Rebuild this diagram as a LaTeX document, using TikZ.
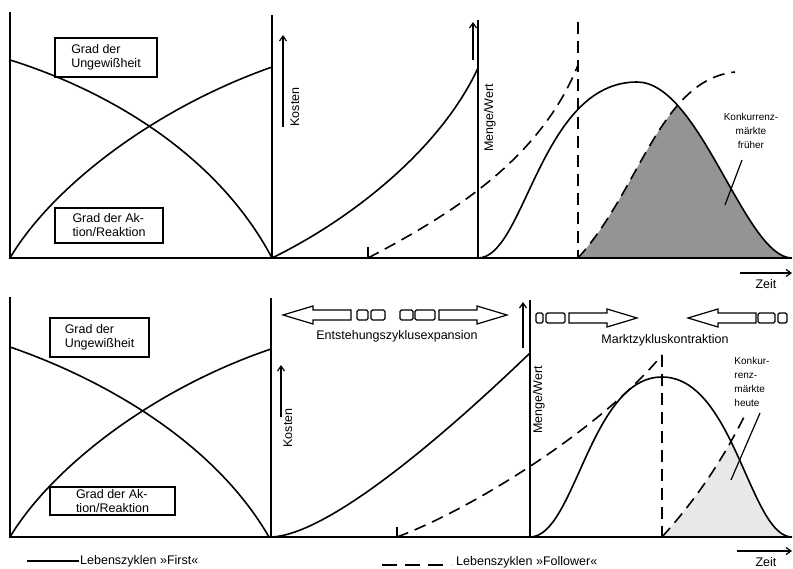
\documentclass[tikz,border=0pt]{standalone}
\usepackage{fontspec}
\setmainfont{Liberation Sans}
\usetikzlibrary{arrows.meta}
\tikzset{
  curve/.style  = {line width=1.6pt},
  dcurve/.style = {curve, dash pattern=on 12pt off 7pt},
  axis/.style   = {line width=1.7pt},
  labelbox/.style = {draw, line width=1.3pt, align=left, inner sep=0pt,
                     font=\fontsize{12.5}{14}\selectfont},
  lbl/.style    = {font=\fontsize{12.5}{14}\selectfont, inner sep=1pt},
  konk/.style   = {font=\fontsize{10}{14}\selectfont, inner sep=1pt},
  uparr/.style  = {line width=1.2pt, -{Straight Barb[length=5pt,width=7pt]}},
  hollow/.style = {line width=1.2pt, line join=miter},
  seg/.style    = {hollow, rounded corners=1.5pt},
  bigarrow/.pic = {\draw[hollow] (0,0) -- (-30,-9) -- (-30,-5) -- (-68,-5)
                    -- (-68,5) -- (-30,5) -- (-30,9) -- cycle;},
}

\begin{document}
\begin{tikzpicture}[x=1pt, y=-1pt]
  \useasboundingbox (0,0) rectangle (793,569);

  % ---------- upper panel: Lebenszyklen frueher ----------
  % shaded competitor market
  \begin{scope}
    \clip (578,258) .. controls (640,190) and (660,80) .. (735,72)
          -- (800,72) -- (800,258) -- cycle;
    \fill[black!42] (478,258) .. controls (525,258) and (540,82) .. (637,82)
          .. controls (700,82) and (745,258) .. (792,258) -- cycle;
  \end{scope}

  % axes
  \draw[axis] (10,12) -- (10,258) -- (792,258);
  \draw[axis] (272,15) -- (272,258);
  \draw[axis] (478,20) -- (478,258);
  \draw[dcurve] (578,22) -- (578,258);

  % Ungewissheit / Aktion
  \draw[curve] (10,60) .. controls (100,88) and (215,150) .. (272,258);
  \draw[curve] (10,258) .. controls (50,190) and (150,110) .. (272,67);
  \node[labelbox, minimum width=102pt, minimum height=39pt] (ungA) at (106,57.5)
    {Grad der\\Ungewißheit};
  \node[labelbox, minimum width=108pt, minimum height=35pt] (aktA) at (109,225.5)
    {Grad der Ak-\\tion/Reaktion};

  % Kosten
  \draw[curve] (272,258) .. controls (350,220) and (440,150) .. (478,68);
  \draw[dcurve] (368,258) .. controls (450,215) and (540,160) .. (578,65);
  \draw[curve] (368,247) -- (368,258);
  \coordinate (kosA0) at (283,127);
  \coordinate (kosA1) at (283,35);
  \draw[uparr] (kosA0) -- (kosA1);
  \node[lbl, rotate=90] (kosA) at (295,107) {Kosten};

  % Menge/Wert
  \coordinate (menA0) at (473,60);
  \coordinate (menA1) at (473,22);
  \draw[uparr] (menA0) -- (menA1);
  \node[lbl, rotate=90] (menA) at (490,118) {Menge/Wert};
  \draw[curve] (478,258) .. controls (525,258) and (540,82) .. (637,82)
        .. controls (700,82) and (745,258) .. (792,258);
  \draw[dcurve] (578,258) .. controls (640,190) and (660,80) .. (735,72);

  \node[konk, align=center] (konkA) at (751,131) {Konkurrenz-\\märkte\\früher};
  \coordinate (konkAp) at (725,205);
  \draw[line width=1.2pt] (742,160) -- (konkAp);

  % Zeit
  \coordinate (zeitA0) at (740,273);
  \coordinate (zeitA1) at (792,273);
  \draw[uparr] (zeitA0) -- (zeitA1);
  \node[lbl] (zeitA) at (766,284) {Zeit};

  % ---------- lower panel: Lebenszyklen heute ----------
  \begin{scope}
    \clip (662,537) .. controls (700,495) and (725,455) .. (745,415)
          -- (800,415) -- (800,540) -- cycle;
    \fill[black!9] (530,537) .. controls (575,537) and (590,377) .. (662,377)
          .. controls (734,377) and (750,537) .. (792,537) -- cycle;
  \end{scope}

  \draw[axis] (10,297) -- (10,537) -- (792,537);
  \draw[axis] (271,298) -- (271,537);
  \draw[axis] (530,300) -- (530,537);
  \draw[dcurve] (662,355) -- (662,537);

  \draw[curve] (10,347) .. controls (100,378) and (213,440) .. (269,537);
  \draw[curve] (10,537) .. controls (50,470) and (150,390) .. (271,349);
  \node[labelbox, minimum width=99pt, minimum height=39pt] (ungB) at (99.5,337.5)
    {Grad der\\Ungewißheit};
  \node[labelbox, minimum width=125pt, minimum height=28pt] (aktB) at (112.5,501)
    {Grad der Ak-\\tion/Reaktion};

  \draw[curve] (271,537) .. controls (330,535) and (450,430) .. (530,353);
  \draw[dcurve] (397,537) .. controls (470,510) and (600,430) .. (662,355);
  \draw[curve] (397,527) -- (397,537);
  \coordinate (kosB0) at (281,417);
  \coordinate (kosB1) at (281,365);
  \draw[uparr] (kosB0) -- (kosB1);
  \node[lbl, rotate=90] (kosB) at (288,428) {Kosten};

  \coordinate (menB0) at (523,348);
  \coordinate (menB1) at (523,302);
  \draw[uparr] (menB0) -- (menB1);
  \node[lbl, rotate=90] (menB) at (539,400) {Menge/Wert};
  \draw[curve] (530,537) .. controls (575,537) and (590,377) .. (662,377)
        .. controls (734,377) and (750,537) .. (792,537);
  \draw[dcurve] (662,537) .. controls (700,495) and (725,455) .. (745,415);

  \node[konk, align=left] (konkB) at (752,382) {Konkur-\\renz-\\märkte\\heute};
  \coordinate (konkBp) at (731,480);
  \draw[line width=1.2pt] (760,413) -- (konkBp);

  % Entstehungszyklusexpansion
  \pic[rotate=180] at (283,315) {bigarrow};
  \foreach \a/\b in {357/368, 371/385, 400/413, 415/435}
    \draw[seg] (\a,310) rectangle (\b,320);
  \pic at (507,315) {bigarrow};
  \node[lbl] (entst) at (397,336) {Entstehungszyklusexpansion};

  % Marktzykluskontraktion
  \foreach \a/\b in {536/543, 546/565}
    \draw[seg] (\a,313) rectangle (\b,323);
  \pic at (637,318) {bigarrow};
  \pic[rotate=180] at (688,318) {bigarrow};
  \foreach \a/\b in {758/775, 778/787}
    \draw[seg] (\a,313) rectangle (\b,323);
  \node[lbl] (markt) at (665,340) {Marktzykluskontraktion};

  \coordinate (zeitB0) at (737,551);
  \coordinate (zeitB1) at (792,551);
  \draw[uparr] (zeitB0) -- (zeitB1);
  \node[lbl] (zeitB) at (766,562) {Zeit};

  % legend
  \node[lbl, anchor=west] (legFirst) at (79,561) {Lebenszyklen »First«};
  \coordinate (legF0) at (27,561);
  \draw[line width=1.3pt] (legF0) -- (legFirst.west);
  \node[lbl, anchor=base west] (legFoll) at (455,565) {Lebenszyklen »Follower«};
  \coordinate (legD0) at (382,565);
  \coordinate (legD1) at (451,565);
  \draw[line width=2.4pt, dash pattern=on 15pt off 8pt] (legD0) -- (legD1);
\end{tikzpicture}
\end{document}
